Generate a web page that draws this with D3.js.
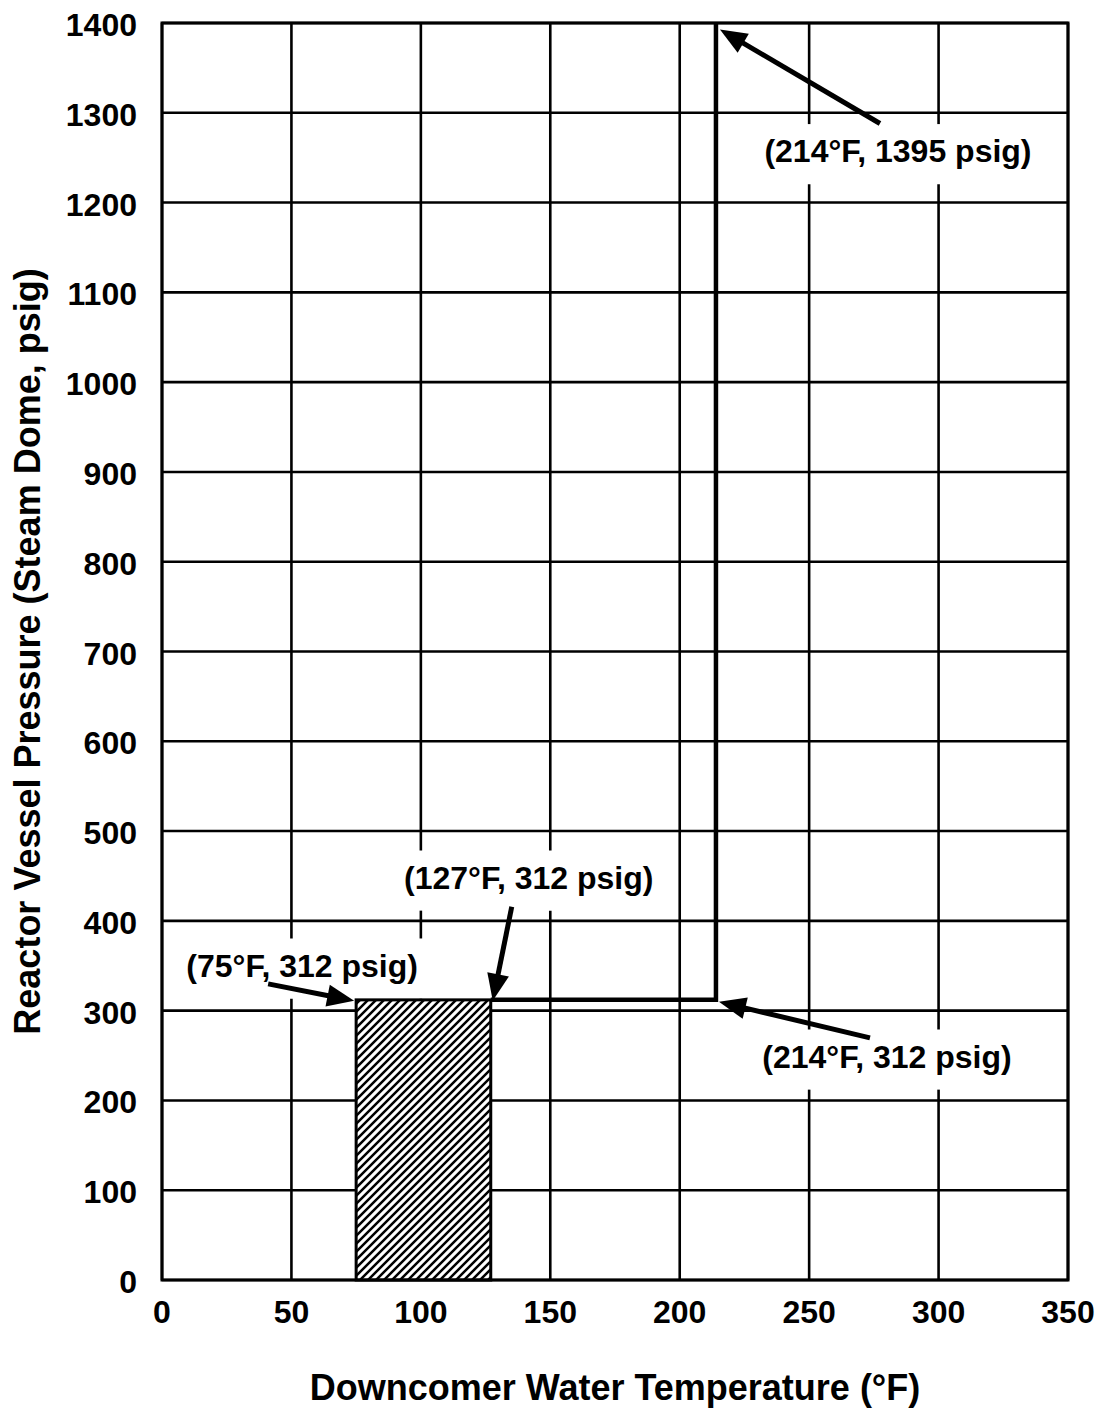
<!DOCTYPE html>
<html>
<head>
<meta charset="utf-8">
<script src="https://cdn.jsdelivr.net/npm/d3@7"></script>
<style>
  body { margin: 0; background: #fff; }
  text { font-family: "Liberation Sans", Arial, Helvetica, sans-serif; font-weight: bold; fill: #000; }
</style>
</head>
<body>
<svg id="chart"></svg>
<script>
// ---------------------------------------------------------------- data
const xTicks = [0, 50, 100, 150, 200, 250, 300, 350];
const yTicks = [0, 100, 200, 300, 400, 500, 600, 700, 800, 900, 1000, 1100, 1200, 1300, 1400];

// step limit line (temperature, pressure)
const limitTemp = [127, 214, 214];
const limitPress = [312, 312, 1400];

// hatched region
const regionTemp = [75, 127];
const regionPress = [0, 312];

// annotated points
const noteText = ["(214°F, 1395 psig)", "(127°F, 312 psig)", "(75°F, 312 psig)", "(214°F, 312 psig)"];
const noteTemp = [214, 127, 75, 214];
const notePress = [1395, 312, 312, 312];

// ---------------------------------------------------------------- svg
const width = 1100,
  height = 1412,
  margin = { top: 23, right: 32, bottom: 132, left: 162 };

const svg = d3.select("#chart")
  .attr("width", width)
  .attr("height", height);

const x = d3.scaleLinear().domain([0, 350]).range([margin.left, width - margin.right]);
const y = d3.scaleLinear().domain([0, 1400]).range([height - margin.bottom, margin.top]);

// hatch pattern
const pat = svg.append("defs").append("pattern")
  .attr("id", "hatch")
  .attr("patternUnits", "userSpaceOnUse")
  .attr("width", 8)
  .attr("height", 8);
pat.append("rect").attr("width", 8).attr("height", 8).attr("fill", "#fff");
pat.append("path")
  .attr("d", "M-2,2 l4,-4 M0,8 l8,-8 M6,10 l4,-4")
  .attr("stroke", "#000")
  .attr("stroke-width", 2.5);

// label boxes (px), used to break the grid around the labels
const fs = 32;
const labelDx = [182, 38, -54, 171],
  labelDy = [135, -111, -23, 68];
const boxes = noteText.map((t, i) => {
  const lx = x(noteTemp[i]) + labelDx[i], ly = y(notePress[i]) + labelDy[i];
  const w = t.length * fs * 0.47;
  return { x0: lx - w / 2 - 10, x1: lx + w / 2 + 10, y0: ly - fs * 1.2, y1: ly + fs * 0.68, lx: lx, ly: ly };
});

// split a 1-d run [a,b] at position c (other axis) by the boxes
function pieces(a, b, c, vertical) {
  let cuts = [];
  boxes.forEach((bx) => {
    if (vertical && c > bx.x0 && c < bx.x1) cuts.push([bx.y0, bx.y1]);
    if (!vertical && c > bx.y0 && c < bx.y1) cuts.push([bx.x0, bx.x1]);
  });
  cuts.sort((p, q) => p[0] - q[0]);
  let out = [], s = a;
  cuts.forEach((k) => {
    if (k[0] > s) out.push([s, Math.min(k[0], b)]);
    s = Math.max(s, k[1]);
  });
  if (s < b) out.push([s, b]);
  return out;
}

// grid
const grid = svg.append("g").attr("stroke", "#000").attr("stroke-width", 2.6);
xTicks.forEach((d) => {
  pieces(y(1400), y(0), x(d), true).forEach((p) => {
    grid.append("line")
      .attr("x1", x(d)).attr("x2", x(d))
      .attr("y1", p[0]).attr("y2", p[1]);
  });
});
yTicks.forEach((d) => {
  pieces(x(0), x(350), y(d), false).forEach((p) => {
    grid.append("line")
      .attr("x1", p[0]).attr("x2", p[1])
      .attr("y1", y(d)).attr("y2", y(d));
  });
});

// tick labels
svg.append("g").selectAll("text")
  .data(xTicks)
  .join("text")
  .attr("x", (d) => x(d))
  .attr("y", 1323)
  .attr("text-anchor", "middle")
  .style("font-size", "32px")
  .text((d) => d);

svg.append("g").selectAll("text")
  .data(yTicks)
  .join("text")
  .attr("x", 137)
  .attr("y", (d) => y(d) + 13)
  .attr("text-anchor", "end")
  .style("font-size", "32px")
  .text((d) => d);

// axis titles
svg.append("text")
  .attr("x", (x(0) + x(350)) / 2)
  .attr("y", 1400)
  .attr("text-anchor", "middle")
  .style("font-size", "36px")
  .text("Downcomer Water Temperature (°F)");

svg.append("text")
  .attr("transform", "translate(40," + (y(0) + y(1400)) / 2 + ") rotate(-90)")
  .attr("text-anchor", "middle")
  .style("font-size", "36px")
  .text("Reactor Vessel Pressure (Steam Dome, psig)");

// hatched region
svg.append("rect")
  .attr("x", x(regionTemp[0]))
  .attr("y", y(regionPress[1]))
  .attr("width", x(regionTemp[1]) - x(regionTemp[0]))
  .attr("height", y(regionPress[0]) - y(regionPress[1]))
  .style("fill", "url(#hatch)")
  .attr("stroke", "#000")
  .attr("stroke-width", 3);

// step limit line
const limitPts = limitTemp.map((t, i) => [x(t), y(limitPress[i])]);
svg.append("path")
  .attr("d", d3.line()(limitPts))
  .attr("fill", "none")
  .attr("stroke", "#000")
  .attr("stroke-width", 4.5);

// annotations: arrow tail and tip, in px from the point
const tailDx = [164, 21, -88, 154],
  tailDy = [96, -93, -16, 38],
  tipDx = [4, 2, -2, 3],
  tipDy = [2, 1, 1, 2];

const notes = svg.append("g");
noteText.forEach((t, i) => {
  const px = x(noteTemp[i]), py = y(notePress[i]);
  const g = notes.append("g");

  g.append("text")
    .attr("x", boxes[i].lx)
    .attr("y", boxes[i].ly)
    .attr("text-anchor", "middle")
    .style("font-size", fs + "px")
    .text(t);

  // arrow
  const tx = px + tipDx[i], ty = py + tipDy[i];
  const sx = px + tailDx[i], sy = py + tailDy[i];
  const ang = Math.atan2(ty - sy, tx - sx);
  const headLen = 27, headW = 11;
  const bx = tx - headLen * Math.cos(ang), by = ty - headLen * Math.sin(ang);
  g.append("line")
    .attr("x1", sx).attr("y1", sy)
    .attr("x2", bx + 2 * Math.cos(ang)).attr("y2", by + 2 * Math.sin(ang))
    .attr("stroke", "#000")
    .attr("stroke-width", 5);
  g.append("path")
    .attr("d", d3.line()([
      [tx, ty],
      [bx + headW * Math.sin(ang), by - headW * Math.cos(ang)],
      [bx - headW * Math.sin(ang), by + headW * Math.cos(ang)]
    ]) + "Z")
    .attr("fill", "#000");
});

// border
svg.append("rect")
  .attr("x", x(0)).attr("y", y(1400))
  .attr("width", x(350) - x(0)).attr("height", y(0) - y(1400))
  .attr("fill", "none")
  .attr("stroke", "#000")
  .attr("stroke-width", 3);
</script>
</body>
</html>
